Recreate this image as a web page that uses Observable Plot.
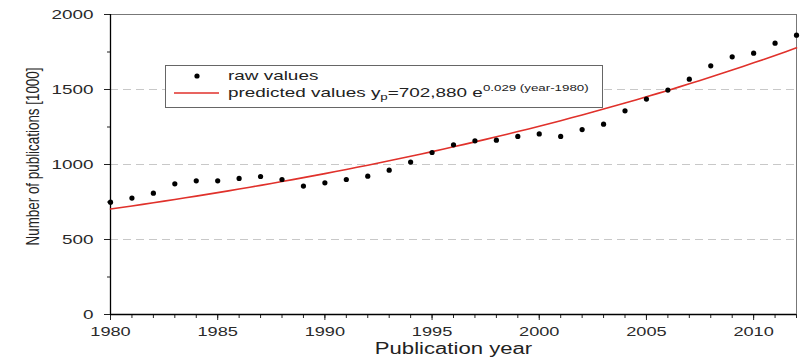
<!DOCTYPE html>
<html><head><meta charset="utf-8">
<script src="https://cdn.jsdelivr.net/npm/d3@7"></script>
<script src="https://cdn.jsdelivr.net/npm/@observablehq/plot@0.6"></script>
<style>
body{margin:0;background:#fff;}
#wrap{position:relative;width:800px;height:364px;font-family:"Liberation Sans",Arial,sans-serif;}
#legend{position:absolute;left:165px;top:65px;width:438px;height:43px;box-sizing:border-box;border:1px solid #666;background:#fff;font-size:13.5px;color:#222;}
#legend .row{position:absolute;left:62px;line-height:16px;white-space:nowrap;transform:scaleX(1.4);transform-origin:0 50%;}
#legend sub{font-size:9.5px;vertical-align:-3px;line-height:0;}
#legend sup{font-size:9.5px;vertical-align:6px;line-height:0;}
</style></head>
<body><div id="wrap"></div>
<script>
const years = d3.range(1980, 2013);
const rawValues = [749, 776, 809, 871, 891, 891, 907, 920, 900, 856, 878, 900, 922, 962, 1016,
  1080, 1131, 1158, 1162, 1187, 1204, 1187, 1233, 1269, 1358, 1436, 1496, 1569, 1658, 1718, 1742, 1809, 1862];
const fitA = 702.88, fitB = 0.029, fitBaseYear = 1980;
const xTickLabels = [1980, 1985, 1990, 1995, 2000, 2005, 2010];
const yTickLabels = [0, 500, 1000, 1500, 2000];
const yMinorTicks = [250, 750, 1250, 1750];
const gridValues = [500, 1000, 1500];
const xTitle = "Publication year";
const yTitle = "Number of publications [1000]";

const raw = years.map((y, i) => ({year: y, value: rawValues[i]}));
const fitYears = d3.range(1980, 2012.01, 0.5);

const chart = Plot.plot({
  width: 800, height: 364,
  marginLeft: 110, marginRight: 4, marginTop: 14, marginBottom: 50,
  x: {domain: [1980, 2012]},
  y: {domain: [0, 2000]},
  style: {fontFamily: '"Liberation Sans", Arial, sans-serif', fontSize: "13px", color: "#2a2a2a", background: "white"},
  marks: [
    Plot.gridY(gridValues, {stroke: "#c8c8c8", strokeOpacity: 1, strokeDasharray: "8,5", strokeWidth: 1}),
    Plot.frame({stroke: "#777"}),
    Plot.axisX({ticks: years, tickSize: 4, tickFormat: () => "", label: null, stroke: "#222"}),
    Plot.axisX({ticks: xTickLabels, tickSize: 6, tickPadding: 6, tickFormat: d => String(d), label: null, stroke: "#222", fontSize: 13}),
    Plot.axisY({ticks: yMinorTicks, tickSize: 3, tickFormat: () => "", label: null, stroke: "#222"}),
    Plot.axisY({ticks: yTickLabels, tickSize: 6, tickPadding: 11, tickFormat: d => String(d), label: null, stroke: "#222", fontSize: 13.5}),
    Plot.ruleY([yTickLabels[0]], {stroke: "#000", strokeWidth: 1.3}),
    Plot.ruleX([years[0]], {stroke: "#000", strokeWidth: 1.3}),
    Plot.line(fitYears, {x: d => d, y: d => fitA * Math.exp(fitB * (d - fitBaseYear)), stroke: "#e0312b", strokeWidth: 1.6}),
    Plot.dot(raw, {x: "year", y: "value", r: 2.6, fill: "#000", stroke: null}),
    Plot.text([xTitle], {frameAnchor: "bottom", dy: 39, fontSize: 15.8, fill: "#222"}),
    Plot.text([yTitle], {frameAnchor: "left", textAnchor: "middle", dx: -78, dy: -8, rotate: -90, fontSize: 13.4, fill: "#222"})
  ]
});
// the reference picture is stretched horizontally: widen every text glyph by the same factor
const STRETCH = 1.4;
d3.select(chart).selectAll("text").each(function () {
  const tr = this.getAttribute("transform") || "";
  if (tr.includes("rotate")) {
    this.setAttribute("transform", tr.replace("rotate", `scale(${STRETCH},1) rotate`));
  } else {
    const x = +this.getAttribute("x") || 0;
    this.setAttribute("transform", `${tr} translate(${x},0) scale(${STRETCH},1) translate(${-x},0)`);
  }
});
const wrap = document.getElementById("wrap");
wrap.appendChild(chart);

const legend = document.createElement("div");
legend.id = "legend";
legend.innerHTML = `
  <svg width="60" height="41" style="position:absolute;left:0;top:0">
    <circle cx="31" cy="10" r="2.6" fill="#000"/>
    <line x1="8" x2="53" y1="27" y2="27" stroke="#e0312b" stroke-width="1.5"/>
  </svg>
  <div class="row" style="top:2px">raw values</div>
  <div class="row" style="top:19px">predicted values y<sub>p</sub>=702,880 e<sup>0.029 (year-1980)</sup></div>`;
wrap.appendChild(legend);
</script>
</body></html>
